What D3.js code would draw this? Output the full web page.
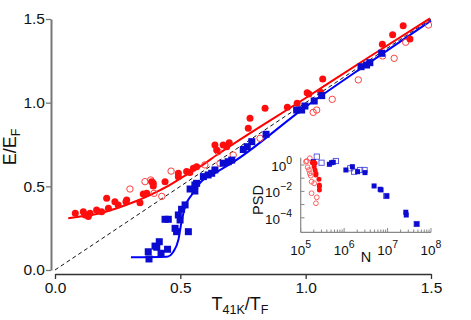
<!DOCTYPE html>
<html>
<head>
<meta charset="utf-8">
<script src="https://cdn.jsdelivr.net/npm/d3@7"></script>
<style>
  body { margin: 0; background: #fff; }
  text { font-family: "Liberation Sans", Arial, sans-serif; }
</style>
</head>
<body>
<svg id="d3svg" width="471" height="320"></svg>
<script>
// main panel: [T/TF, E/EF]
const redFilled = [
  [0.081,0.339],[0.113,0.348],[0.120,0.329],[0.133,0.319],[0.140,0.339],[0.166,0.359],
  [0.186,0.348],[0.206,0.429],[0.213,0.369],[0.239,0.408],[0.252,0.389],[0.283,0.408],
  [0.286,0.418],[0.339,0.402],[0.352,0.454],[0.366,0.458],[0.386,0.528],[0.392,0.502],
  [0.392,0.518],[0.439,0.528],[0.492,0.558],[0.492,0.578],[0.525,0.588],[0.538,0.582],
  [0.552,0.608],[0.565,0.617],[0.638,0.747],[0.645,0.717],[0.671,0.747],[0.685,0.737],
  [0.695,0.761],[0.771,0.847],[0.778,0.907],[0.838,0.967],[0.927,0.973],[0.966,0.996],
  [1.006,1.060],[1.013,1.052],[1.068,1.142],[1.060,1.062],[1.306,1.349],[1.347,1.406],
  [1.389,1.460],[1.416,1.381]
];
const redOpen = [
  [0.299,0.484],[0.359,0.528],[0.382,0.538],[0.395,0.458],[0.426,0.440],[0.463,0.591],
  [0.598,0.628],[0.651,0.707],[0.658,0.638],[0.711,0.687],[0.818,0.787],[1.030,0.942],
  [1.044,0.956],[1.106,1.020],[1.210,1.136],[1.307,1.279],[1.353,1.265],[1.399,1.361],
  [1.490,1.464]
];
const blueFilled = [
  [0.375,0.066],[0.372,0.109],[0.399,0.143],[0.406,0.136],[0.416,0.169],[0.423,0.100],
  [0.439,0.303],[0.452,0.303],[0.449,0.124],[0.479,0.249],[0.485,0.229],[0.492,0.329],
  [0.499,0.299],[0.505,0.363],[0.519,0.389],[0.532,0.229],[0.539,0.484],[0.558,0.508],
  [0.558,0.472],[0.565,0.518],[0.592,0.558],[0.611,0.568],[0.625,0.578],[0.638,0.598],
  [0.671,0.638],[0.691,0.647],[0.705,0.657],[0.751,0.720],[0.767,0.737],[0.785,0.767],
  [0.842,0.811],[0.964,0.956],[0.984,0.956],[0.997,0.980],[1.034,1.010],[1.064,1.042],
  [1.221,1.215],[1.243,1.225],[1.256,1.239],[1.303,1.295]
];
const redFit = [
  [0.053,0.309],[0.113,0.323],[0.180,0.339],[0.246,0.369],[0.312,0.405],[0.379,0.448],
  [0.446,0.498],[0.512,0.558],[0.578,0.617],[0.645,0.687],[1.0,1.028],[1.25,1.27],[1.496,1.504]
];
const blueFit = [
  [0.303,0.076],[0.446,0.079],[0.472,0.109],[0.492,0.179],[0.505,0.289],[0.519,0.378],
  [0.545,0.448],[0.578,0.52],[0.645,0.585],[0.711,0.645],[1.0,0.975],[1.25,1.235],[1.5,1.49]
];
const diagonal = [[0, 0], [1.5, 1.5]];
const mainTicks = [0, 0.5, 1.0, 1.5];

// inset: [log10 N, log10 PSD]
const insetRedFilled = [
  [5.27,0.17],[5.29,0.13],[5.30,0.20],[5.33,0.13],[5.31,-0.13],[5.33,-0.38],[5.35,-0.63],
  [5.35,-0.76],[5.42,-1.08],[5.43,-1.52],[5.43,-1.65],[5.43,-1.89]
];
const insetRedOpen = [
  [5.12,0.25],[5.21,0.51],[5.16,-0.17],[5.19,-0.38],[5.21,-0.63],[5.23,-0.81],[5.25,-1.27],
  [5.31,-1.39],[5.25,-2.14],[5.37,-2.45],[5.35,-2.90],[5.14,0.30]
];
const insetBlueFilled = [
  [5.29,0.25],[5.66,0.05],[5.71,0.17],[5.75,0.2],[6.04,-0.38],[6.19,-0.13],[6.31,-0.51],
  [6.48,-0.58],[6.69,-1.59],[6.83,-1.84],[6.85,-1.89],[6.98,-2.35],[7.42,-3.58],[7.43,-3.79],
  [7.67,-4.47]
];
const insetBlueOpen = [
  [5.37,0.63],[5.48,0.17],[5.81,0.30],[6.14,-0.25],[6.23,-0.51],[6.37,-0.38],[6.47,-0.38],
  [6.97,-2.35],[7.67,-4.47]
];
const insetXExp = [5, 6, 7, 8];
const insetYExp = [0, -2, -4];

const svg = d3.select("#d3svg");

const x = d3.scaleLinear().domain([0, 1.5]).range([55, 431]);
const y = d3.scaleLinear().domain([0, 1.5]).range([270, 19]);

// axes
const yAxis = svg.append("g")
  .attr("transform", "translate(51,0)")
  .call(d3.axisLeft(y).tickValues(mainTicks).tickFormat(d3.format(".1f")).tickSize(5).tickSizeOuter(0));
yAxis.select(".domain").attr("stroke", "#777").attr("stroke-width", 2);
yAxis.selectAll(".tick line").attr("stroke", "#777").attr("stroke-width", 1.3);
yAxis.selectAll(".tick text").attr("font-size", 15.5).attr("fill", "#111").attr("x", -6)
  .style("font-family", "Liberation Sans, Arial, sans-serif");

const xAxis = svg.append("g")
  .attr("transform", "translate(0,274)")
  .call(d3.axisBottom(x).tickValues(mainTicks).tickFormat(d3.format(".1f")).tickSize(5).tickSizeOuter(0));
xAxis.select(".domain").attr("stroke", "#333").attr("stroke-width", 1.5);
xAxis.selectAll(".tick line").attr("stroke", "#333").attr("stroke-width", 1.3);
xAxis.selectAll(".tick text").attr("font-size", 15.5).attr("fill", "#111").attr("y", 8)
  .style("font-family", "Liberation Sans, Arial, sans-serif");

// axis titles
const xt = svg.append("text").attr("x", 240).attr("y", 310).attr("text-anchor", "middle")
  .attr("font-size", 18).attr("fill", "#111");
xt.append("tspan").text("T");
xt.append("tspan").text("41K").attr("font-size", 12.5).attr("dy", 4);
xt.append("tspan").text("/T").attr("dy", -4);
xt.append("tspan").text("F").attr("font-size", 12.5).attr("dy", 4);

const yt = svg.append("text").attr("transform", "translate(16,147) rotate(-90)")
  .attr("text-anchor", "middle").attr("font-size", 18).attr("fill", "#111");
yt.append("tspan").text("E/E");
yt.append("tspan").text("F").attr("font-size", 12.5).attr("dy", 4);

// lines
const line = d3.line().x(d => x(d[0])).y(d => y(d[1]));
const smooth = d3.line().x(d => x(d[0])).y(d => y(d[1])).curve(d3.curveMonotoneX);

svg.append("path").datum(diagonal).attr("d", line)
  .attr("fill", "none").attr("stroke", "#111").attr("stroke-width", 1).attr("stroke-dasharray", "4,3");

svg.append("path").datum(redFit).attr("d", smooth)
  .attr("fill", "none").attr("stroke", "#ff0000").attr("stroke-width", 2);
svg.append("path").datum(blueFit).attr("d", smooth)
  .attr("fill", "none").attr("stroke", "#0000ff").attr("stroke-width", 2);

// markers
svg.append("g").selectAll("circle").data(redOpen).enter().append("circle")
  .attr("cx", d => x(d[0])).attr("cy", d => y(d[1])).attr("r", 3.2)
  .attr("fill", "none").attr("stroke", "#ff4040").attr("stroke-width", 1);

svg.append("g").selectAll("circle").data(redFilled).enter().append("circle")
  .attr("cx", d => x(d[0])).attr("cy", d => y(d[1])).attr("r", 3.5)
  .attr("fill", "#ff0d0d");

svg.append("g").selectAll("rect").data(blueFilled).enter().append("rect")
  .attr("x", d => x(d[0]) - 3.5).attr("y", d => y(d[1]) - 3.5)
  .attr("width", 7).attr("height", 7).attr("fill", "#0a0ad0");

// inset
const ix = d3.scaleLinear().domain([5, 8]).range([300.7, 431]);
const iy = d3.scaleLinear().domain([-5.1, 0.55]).range([232.3, 157.7]);
const insetColor = "#888";

svg.append("line").attr("x1", 300.7).attr("x2", 300.7).attr("y1", iy(0.55)).attr("y2", iy(-5.1))
  .attr("stroke", insetColor).attr("stroke-width", 1.2);
svg.append("line").attr("x1", 300.7).attr("x2", 431).attr("y1", 232.3).attr("y2", 232.3)
  .attr("stroke", insetColor).attr("stroke-width", 1.2);

// inset x ticks (log minor ticks inward)
const xTickVals = [];
for (let e = 5; e < 8; e++) {
  for (let m = 1; m < 10; m++) xTickVals.push([e + Math.log10(m), m === 1]);
}
xTickVals.push([8, true]);
svg.append("g").selectAll("line").data(xTickVals).enter().append("line")
  .attr("x1", d => ix(d[0])).attr("x2", d => ix(d[0]))
  .attr("y1", 232.3).attr("y2", d => d[1] ? 228 : 229.5)
  .attr("stroke", insetColor).attr("stroke-width", 1);

const yTickVals = [0, -1, -2, -3, -4];
svg.append("g").selectAll("line").data(yTickVals).enter().append("line")
  .attr("x1", 300.7).attr("x2", 304.5)
  .attr("y1", d => iy(d)).attr("y2", d => iy(d))
  .attr("stroke", insetColor).attr("stroke-width", 1);

insetXExp.forEach(e => {
  const t = svg.append("text").attr("x", ix(e)).attr("y", 255).attr("text-anchor", "middle")
    .attr("font-size", 13.5).attr("fill", "#111");
  t.append("tspan").text("10");
  t.append("tspan").text(e).attr("font-size", 10.5).attr("dy", -7);
});
insetYExp.forEach(e => {
  const t = svg.append("text").attr("x", 292).attr("y", iy(e) + 6).attr("text-anchor", "end")
    .attr("font-size", 13.5).attr("fill", "#111");
  t.append("tspan").text("10");
  t.append("tspan").text(e === 0 ? "0" : "\u2212" + (-e)).attr("font-size", 10.5).attr("dy", -7);
});

svg.append("text").attr("x", 366).attr("y", 262).attr("text-anchor", "middle")
  .attr("font-size", 14.5).attr("fill", "#111").text("N");
svg.append("text").attr("transform", "translate(263,200) rotate(-90)").attr("text-anchor", "middle")
  .attr("font-size", 14.5).attr("fill", "#111").text("PSD");

svg.append("g").selectAll("circle").data(insetRedOpen).enter().append("circle")
  .attr("cx", d => ix(d[0])).attr("cy", d => iy(d[1])).attr("r", 2.4)
  .attr("fill", "none").attr("stroke", "#ff5050").attr("stroke-width", 0.9);
svg.append("g").selectAll("rect").data(insetBlueOpen).enter().append("rect")
  .attr("x", d => ix(d[0]) - 2.6).attr("y", d => iy(d[1]) - 2.6)
  .attr("width", 5.2).attr("height", 5.2)
  .attr("fill", "none").attr("stroke", "#4a4ae0").attr("stroke-width", 0.9);
svg.append("g").selectAll("rect").data(insetBlueFilled).enter().append("rect")
  .attr("x", d => ix(d[0]) - 2.5).attr("y", d => iy(d[1]) - 2.5)
  .attr("width", 5).attr("height", 5).attr("fill", "#0a0ad0");
svg.append("g").selectAll("circle").data(insetRedFilled).enter().append("circle")
  .attr("cx", d => ix(d[0])).attr("cy", d => iy(d[1])).attr("r", 2.5)
  .attr("fill", "#ff0d0d");
</script>
</body>
</html>
